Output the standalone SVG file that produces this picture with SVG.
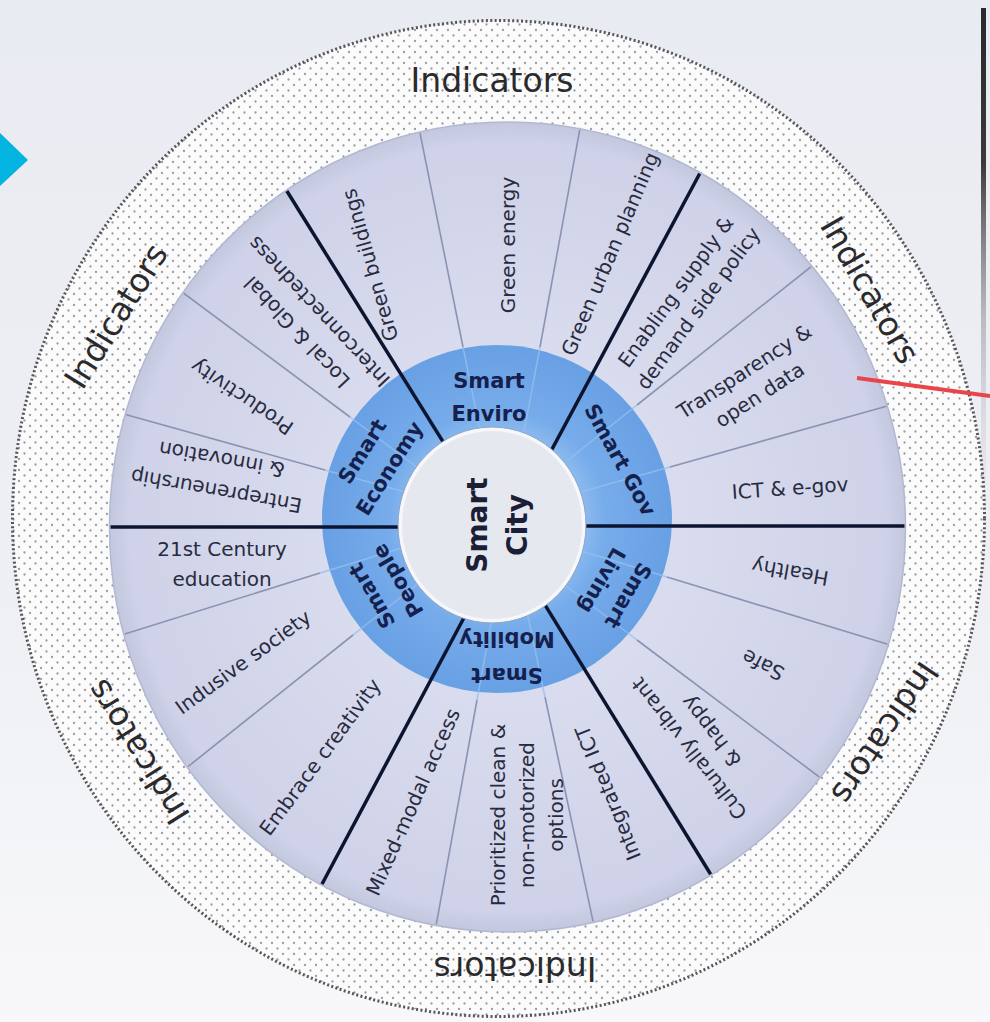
<svg xmlns="http://www.w3.org/2000/svg" width="990" height="1022" viewBox="0 0 990 1022">
<defs>
<style>
.ind{font-family:"DejaVu Sans",sans-serif;font-size:33px;fill:#2a2a2c;text-anchor:middle}
.sub{font-family:"DejaVu Sans",sans-serif;font-size:20px;fill:#282b40;text-anchor:middle}
.ring{font-family:"DejaVu Sans",sans-serif;font-size:21px;font-weight:bold;fill:#15204c;text-anchor:middle}
.city{font-family:"DejaVu Sans",sans-serif;font-size:28px;font-weight:bold;fill:#1b1e36;text-anchor:middle}
.thick{stroke:#0c1530;stroke-width:3.5;fill:none}
.thin{stroke:#8d92b2;stroke-width:1.6;fill:none}
.faint{stroke:#93bff0;stroke-width:1.5;fill:none;opacity:0.8}
</style>
<linearGradient id="bg" x1="0" y1="0" x2="0" y2="1">
<stop offset="0" stop-color="#e9ebf2"/>
<stop offset="0.6" stop-color="#eef0f4"/>
<stop offset="1" stop-color="#f8f8fa"/>
</linearGradient>
<linearGradient id="edge" x1="0" y1="0" x2="0" y2="1">
<stop offset="0" stop-color="#2a2a2c"/>
<stop offset="0.3" stop-color="#3a3a3c"/>
<stop offset="0.6" stop-color="#9a9a9e" stop-opacity="0.6"/>
<stop offset="1" stop-color="#cfd0d4" stop-opacity="0"/>
</linearGradient>
<pattern id="dots" width="11" height="11" patternUnits="userSpaceOnUse">
<rect width="11" height="11" fill="#fbfbfc"/>
<circle cx="2.5" cy="2.5" r="1.15" fill="#9c9ca0"/>
<circle cx="8" cy="8" r="1.15" fill="#9c9ca0"/>
</pattern>
<radialGradient id="lightg" cx="0.5" cy="0.5" r="0.5">
<stop offset="0.45" stop-color="#d9dbee"/>
<stop offset="0.95" stop-color="#cfd2e8"/>
<stop offset="1" stop-color="#c3c8df"/>
</radialGradient>
<radialGradient id="blueg" cx="0.5" cy="0.5" r="0.5">
<stop offset="0.5" stop-color="#8bbaee"/>
<stop offset="0.62" stop-color="#77aceb"/>
<stop offset="1" stop-color="#68a0e4"/>
</radialGradient>
<clipPath id="lightclip"><ellipse cx="507.5" cy="527" rx="397" ry="404"/></clipPath>
</defs>

<rect width="990" height="1022" fill="url(#bg)"/>
<rect x="981" y="8" width="5" height="520" fill="url(#edge)"/>
<polygon points="0,133 28,160 0,186" fill="#04b4e0"/>

<g id="rings">
<ellipse cx="498.5" cy="518.5" rx="486" ry="498" fill="url(#dots)"/>
<ellipse cx="498.5" cy="518.5" rx="486" ry="498" fill="none" stroke="#55555a" stroke-width="3" stroke-dasharray="2 2.4"/>
<ellipse cx="507.5" cy="527" rx="398" ry="405" fill="url(#lightg)" stroke="#b2b8d2" stroke-width="1.5"/>
<ellipse cx="497" cy="519" rx="175" ry="174" fill="url(#blueg)"/>
</g>

<g id="connectors" clip-path="url(#lightclip)">
<line class="faint" x1="463" y1="347" x2="480" y2="430"/>
<line class="faint" x1="540" y1="347" x2="524" y2="432"/>
<line class="faint" x1="637" y1="405" x2="568" y2="460"/>
<line class="faint" x1="670" y1="467" x2="580" y2="492"/>
<line class="faint" x1="667" y1="577" x2="578" y2="550"/>
<line class="faint" x1="637" y1="640" x2="565" y2="585"/>
<line class="faint" x1="545" y1="697" x2="527" y2="612"/>
<line class="faint" x1="477" y1="700" x2="492" y2="618"/>
<line class="faint" x1="320" y1="573" x2="405" y2="547"/>
<line class="faint" x1="353" y1="635" x2="420" y2="582"/>
<line class="faint" x1="325" y1="470" x2="405" y2="492"/>
<line class="faint" x1="350" y1="417" x2="418" y2="468"/>
<line class="thick" x1="495" y1="527" x2="100" y2="527"/>
<line class="thick" x1="495" y1="526" x2="915" y2="526"/>
<line class="thick" x1="493" y1="522" x2="280" y2="180"/>
<line class="thick" x1="513" y1="522" x2="707" y2="160"/>
<line class="thick" x1="494" y1="522" x2="716" y2="883"/>
<line class="thick" x1="515" y1="522" x2="313" y2="901"/>
<line class="thin" x1="463" y1="347" x2="417" y2="118"/>
<line class="thin" x1="540" y1="347" x2="583" y2="112"/>
<line class="thin" x1="637" y1="405" x2="822" y2="258"/>
<line class="thin" x1="670" y1="467" x2="898" y2="403"/>
<line class="thin" x1="667" y1="577" x2="900" y2="648"/>
<line class="thin" x1="637" y1="640" x2="826" y2="782"/>
<line class="thin" x1="545" y1="697" x2="596" y2="935"/>
<line class="thin" x1="477" y1="700" x2="434" y2="937"/>
<line class="thin" x1="320" y1="573" x2="112" y2="638"/>
<line class="thin" x1="353" y1="635" x2="180" y2="773"/>
<line class="thin" x1="325" y1="470" x2="113" y2="411"/>
<line class="thin" x1="350" y1="417" x2="178" y2="289"/>
</g>

<line x1="857" y1="378" x2="990" y2="396" stroke="#e8444a" stroke-width="4"/>

<g id="center">
<ellipse cx="492" cy="525" rx="92" ry="96" fill="#e6e8ef" stroke="#f6f7fa" stroke-width="4"/>
<ellipse cx="492" cy="525" rx="94" ry="98" fill="none" stroke="#8fa3c4" stroke-width="1"/>
<text class="city" transform="translate(492 525) rotate(-90)"><tspan x="0" y="-5">Smart</tspan><tspan x="0" y="35">City</tspan></text>
</g>

<g id="indicators">
<text class="ind" transform="translate(492 80)" y="11.5">Indicators</text>
<text class="ind" transform="translate(116 316) rotate(-58)" y="11.5">Indicators</text>
<text class="ind" transform="translate(870 290) rotate(60)" y="11.5">Indicators</text>
<text class="ind" transform="translate(885 733) rotate(124)" y="11.5">Indicators</text>
<text class="ind" transform="translate(515 968) rotate(180)" y="11.5">Indicators</text>
<text class="ind" transform="translate(138 752) rotate(-122)" y="11.5">Indicators</text>
</g>

<g id="smart-enviro">
<text class="ring" transform="translate(489 397)"><tspan x="0" y="-9">Smart</tspan><tspan x="0" y="24">Enviro</tspan></text>
<text class="sub" transform="translate(370 265) rotate(-106)" y="7">Green buildings</text>
<text class="sub" transform="translate(508 245) rotate(-90)" y="7">Green energy</text>
<text class="sub" transform="translate(610 254) rotate(-67)" y="7">Green urban planning</text>
</g>

<g id="smart-gov">
<text class="ring" transform="translate(620 460) rotate(61)" y="7">Smart Gov</text>
<text class="sub" transform="translate(687 300) rotate(-54)"><tspan x="0" y="-7">Enabling supply &amp;</tspan><tspan x="0" y="21">demand side policy</tspan></text>
<text class="sub" transform="translate(752 383) rotate(-33)"><tspan x="0" y="-7">Transparency &amp;</tspan><tspan x="0" y="21">open data</tspan></text>
<text class="sub" transform="translate(790 488) rotate(-4)" y="7">ICT &amp; e-gov</text>
</g>

<g id="smart-living">
<text class="ring" transform="translate(615 588) rotate(120)"><tspan x="0" y="-8">Smart</tspan><tspan x="0" y="22">Living</tspan></text>
<text class="sub" transform="translate(790 572) rotate(190)" y="7">Healthy</text>
<text class="sub" transform="translate(763 665) rotate(207)" y="7">Safe</text>
<text class="sub" transform="translate(700 740) rotate(232)"><tspan x="0" y="-7">Culturally vibrant</tspan><tspan x="0" y="21">&amp; happy</tspan></text>
</g>

<g id="smart-mobility">
<text class="ring" transform="translate(507 657) rotate(180)"><tspan x="0" y="-11">Smart</tspan><tspan x="0" y="25">Mobility</tspan></text>
<text class="sub" transform="translate(608 793) rotate(-112)" y="7">Integrated ICT</text>
<text class="sub" transform="translate(527 815) rotate(-90)"><tspan x="0" y="-22">Prioritized clean &amp;</tspan><tspan x="0" y="7">non-motorized</tspan><tspan x="0" y="36">options</tspan></text>
<text class="sub" transform="translate(413 802) rotate(-66)" y="7">Mixed-modal access</text>
</g>

<g id="smart-people">
<text class="ring" transform="translate(385 588) rotate(-120)"><tspan x="0" y="-8">Smart</tspan><tspan x="0" y="22">People</tspan></text>
<text class="sub" transform="translate(320 757) rotate(-53.5)" y="7">Embrace creativity</text>
<text class="sub" transform="translate(243 662) rotate(-36)" y="7">Indusive society</text>
<text class="sub" transform="translate(222 564)"><tspan x="0" y="-8">21st Century</tspan><tspan x="0" y="22">education</tspan></text>
</g>

<g id="smart-economy">
<text class="ring" transform="translate(376 460) rotate(-58)"><tspan x="0" y="-9">Smart</tspan><tspan x="0" y="23">Economy</tspan></text>
<text class="sub" transform="translate(219 475) rotate(190)"><tspan x="0" y="-9">Entrepreneurship</tspan><tspan x="0" y="23">&amp; innovation</tspan></text>
<text class="sub" transform="translate(242 397) rotate(214)" y="7">Productivity</text>
<text class="sub" transform="translate(308 322) rotate(227)"><tspan x="0" y="-8">Local &amp; Global</tspan><tspan x="0" y="22">Interconnectedness</tspan></text>
</g>
</svg>
